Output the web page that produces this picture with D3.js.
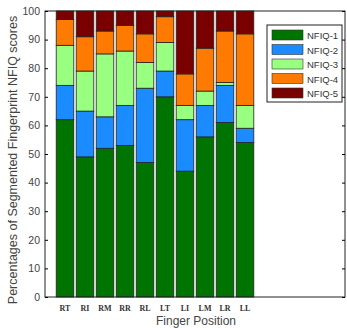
<!DOCTYPE html>
<html>
<head>
<meta charset="utf-8">
<script src="https://cdn.jsdelivr.net/npm/d3@7"></script>
<style>
body { margin: 0; background: #fff; }
</style>
</head>
<body>
<div id="chart"></div>
<script>
// finger positions and percentage of each NFIQ level
var fingers = ["RT", "RI", "RM", "RR", "RL", "LT", "LI", "LM", "LR", "LL"];
var levels = ["NFIQ-1", "NFIQ-2", "NFIQ-3", "NFIQ-4", "NFIQ-5"];
var nfiq1 = [62, 49, 52, 53, 47, 70, 44, 56, 61, 54];
var nfiq2 = [12, 16, 11, 14, 26, 9, 18, 11, 13, 5];
var nfiq3 = [14, 14, 22, 19, 9, 10, 5, 5, 1, 8];
var nfiq4 = [9, 12, 8, 9, 10, 9, 11, 15, 18, 25];
var nfiq5 = [3, 9, 7, 5, 8, 2, 22, 13, 7, 8];
var colors = ["#007400", "#1a8cff", "#99ff80", "#ff7a00", "#7a0000"];
var yTicks = d3.range(0, 101, 10);

var width = 347,
	height = 328,
	plotLeft = 45,
	plotRight = 345,
	plotTop = 11,
	plotBottom = 297;

var svg = d3.select("#chart").append("svg")
	.attr("width", width)
	.attr("height", height);

var x = d3.scaleLinear().domain([0, 15]).range([plotLeft, plotRight]);
var y = d3.scaleLinear().domain([0, 100]).range([plotBottom, plotTop]);

var rows = fingers.map(function(f, i) {
	return { finger: f, pos: i + 1, "NFIQ-1": nfiq1[i], "NFIQ-2": nfiq2[i], "NFIQ-3": nfiq3[i], "NFIQ-4": nfiq4[i], "NFIQ-5": nfiq5[i] };
});

var stacked = d3.stack().keys(levels)(rows);

var BAR_W = 0.88;

svg.append("g").selectAll("g")
	.data(stacked)
	.enter()
	.append("g")
	.style("fill", function(d, i) { return colors[i]; })
	.selectAll("rect")
	.data(function(d) { return d; })
	.enter()
	.append("rect")
	.attr("x", function(d) { return x(d.data.pos - BAR_W / 2); })
	.attr("width", x(BAR_W) - x(0))
	.attr("y", function(d) { return y(d[1]); })
	.attr("height", function(d) { return y(d[0]) - y(d[1]); })
	.style("stroke", "#222")
	.style("stroke-width", 0.8);

// frame
svg.append("rect")
	.attr("x", plotLeft)
	.attr("y", plotTop)
	.attr("width", plotRight - plotLeft)
	.attr("height", plotBottom - plotTop)
	.style("fill", "none")
	.style("stroke", "#222")
	.style("stroke-width", 1);

// left axis, ticks pointing in
var yAxis = svg.append("g")
	.attr("transform", "translate(" + plotLeft + ",0)")
	.call(d3.axisLeft(y).tickValues(yTicks).tickSize(-3).tickPadding(5));
yAxis.select(".domain").remove();
yAxis.selectAll("text")
	.style("font-family", "Arial, 'Liberation Sans', sans-serif")
	.style("font-size", "10.5px")
	.style("fill", "#444");

// right side ticks
var yRight = svg.append("g")
	.attr("transform", "translate(" + plotRight + ",0)")
	.call(d3.axisRight(y).tickValues(yTicks).tickSize(-3).tickFormat(""));
yRight.select(".domain").remove();

// finger labels
svg.append("g").selectAll("text")
	.data(rows)
	.enter()
	.append("text")
	.attr("x", function(d) { return x(d.pos); })
	.attr("y", 311)
	.text(function(d) { return d.finger; })
	.style("font-family", "'Liberation Serif', 'Times New Roman', serif")
	.style("font-weight", "bold")
	.style("font-size", "8px")
	.style("fill", "#333")
	.style("text-anchor", "middle");

// axis titles
svg.append("text")
	.attr("x", 196)
	.attr("y", 325)
	.text("Finger Position")
	.style("font-family", "Arial, 'Liberation Sans', sans-serif")
	.style("font-size", "12px")
	.style("fill", "#444")
	.style("text-anchor", "middle");

svg.append("text")
	.attr("transform", "translate(17,160) rotate(-90)")
	.text("Percentages of Segmented Fingerprint NFIQ scores")
	.style("font-family", "Arial, 'Liberation Sans', sans-serif")
	.style("font-size", "12.5px")
	.style("fill", "#444")
	.style("text-anchor", "middle");

// legend
var legend = svg.append("g").attr("transform", "translate(267,25)");
legend.append("rect")
	.attr("width", 75)
	.attr("height", 77)
	.style("fill", "#fff")
	.style("stroke", "#222")
	.style("stroke-width", 1);

var items = legend.selectAll(".item")
	.data(levels)
	.enter()
	.append("g")
	.attr("transform", function(d, i) { return "translate(5," + (5 + i * 14.5) + ")"; });

items.append("rect")
	.attr("width", 31)
	.attr("height", 10)
	.style("fill", function(d, i) { return colors[i]; })
	.style("stroke", "#333")
	.style("stroke-width", 0.6);

items.append("text")
	.attr("x", 35)
	.attr("y", 9)
	.text(function(d) { return d; })
	.style("font-family", "Arial, 'Liberation Sans', sans-serif")
	.style("font-size", "9.5px")
	.style("fill", "#333");
</script>
</body>
</html>
